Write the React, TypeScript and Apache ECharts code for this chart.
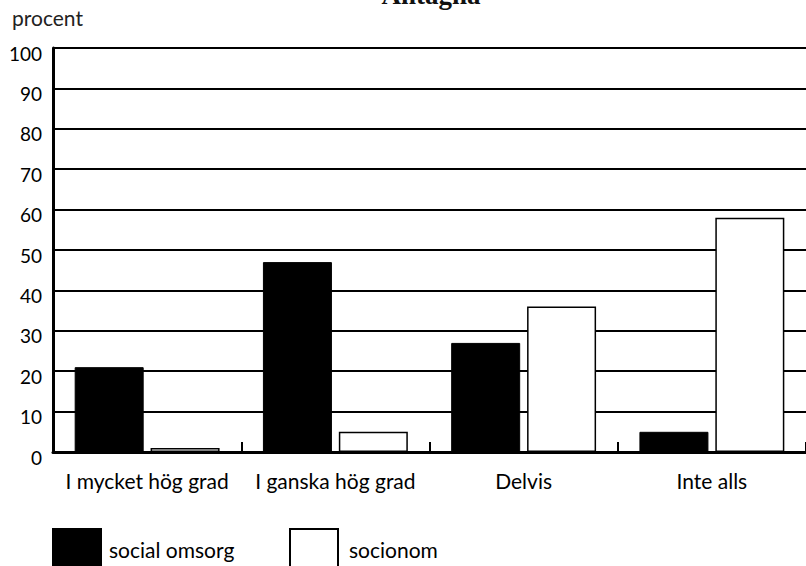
import React, { useEffect, useRef } from "react";
import * as echarts from "echarts";

const categories = ["I mycket hög grad", "I ganska hög grad", "Delvis", "Inte alls"];
const socialOmsorg = [21, 47, 27, 5];
const socionom = [1, 5, 36, 58];
const seriesNames = ["social omsorg", "socionom"];
const titleText = "Antagna";
const yAxisName = "procent";

const FONT = "Lato, 'Open Sans', sans-serif";

export default function App() {
  const ref = useRef<HTMLDivElement>(null);
  useEffect(() => {
    if (!ref.current) return;
    const chart = echarts.init(ref.current, undefined, { renderer: "svg" });
    chart.setOption({
      animation: false,
      backgroundColor: "#ffffff",
      title: {
        text: titleText,
        left: 431,
        textAlign: "center",
        top: -19,
        padding: 0,
        textStyle: { fontFamily: "'Liberation Serif', serif", fontWeight: "bold", fontSize: 27, color: "#111" },
      },
      graphic: [
        {
          type: "text",
          left: 12,
          top: 7,
          style: { text: yAxisName, fontFamily: FONT, fontSize: 21, fill: "#222" },
        },
      ],
      legend: [
        {
          data: [{ name: seriesNames[0], icon: "rect" }],
          left: 52,
          top: 528,
          padding: 0,
          itemWidth: 48,
          itemHeight: 40,
          textStyle: { fontFamily: FONT, fontSize: 21, color: "#000", padding: [0, 0, 0, 3] },
        },
        {
          data: [{ name: seriesNames[1], icon: "rect" }],
          left: 289,
          top: 528,
          padding: 0,
          itemWidth: 48,
          itemHeight: 40,
          textStyle: { fontFamily: FONT, fontSize: 21, color: "#000", padding: [0, 0, 0, 6] },
        },
      ],
      grid: { left: 53, top: 48, width: 760, height: 404, containLabel: false },
      xAxis: {
        type: "category",
        data: categories,
        axisLine: { lineStyle: { color: "#000", width: 3 } },
        axisTick: { show: true, inside: true, length: 10, interval: 0, lineStyle: { color: "#000", width: 2 } },
        axisLabel: { color: "#000", fontFamily: FONT, fontSize: 21, margin: 18, interval: 0 },
      },
      yAxis: {
        type: "value",
        min: 0,
        max: 100,
        interval: 10,
        axisLine: { show: true, lineStyle: { color: "#000", width: 3 } },
        axisTick: { show: false },
        splitLine: { show: true, lineStyle: { color: "#000", width: 2 } },
        axisLabel: {
          color: "#000",
          fontFamily: FONT,
          fontSize: 19,
          margin: 11,
          verticalAlign: "top",
          lineHeight: 10,
        },
      },
      series: [
        {
          name: seriesNames[0],
          type: "bar",
          data: socialOmsorg,
          barWidth: 69,
          barGap: "10%",
          itemStyle: { color: "#000", borderColor: "#000", borderWidth: 1 },
        },
        {
          name: seriesNames[1],
          type: "bar",
          data: socionom,
          barWidth: 69,
          barGap: "10%",
          itemStyle: { color: "#fff", borderColor: "#000", borderWidth: 1.5 },
        },
      ],
    });
    return () => chart.dispose();
  }, []);
  return (
    <div
      ref={ref}
      style={{ position: "fixed", left: 0, top: 0, width: 806, height: 566, background: "#fff" }}
    />
  );
}
